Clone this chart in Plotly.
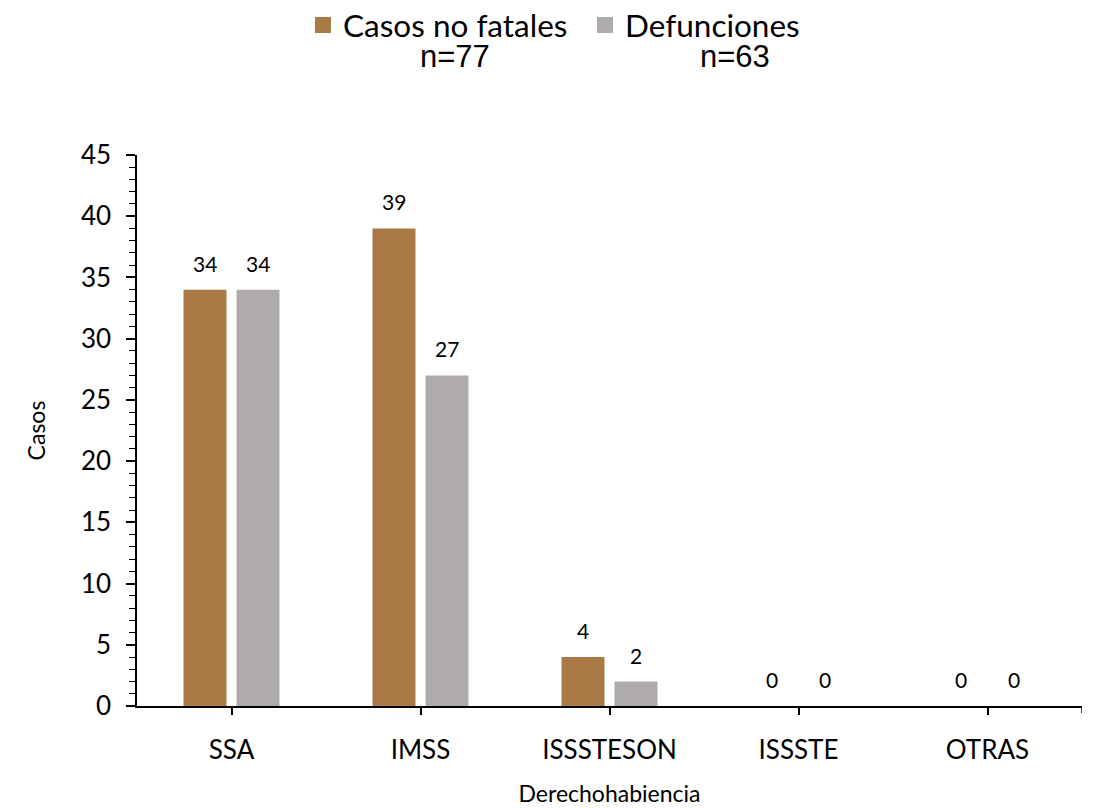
import plotly.graph_objects as go

categories = ["SSA", "IMSS", "ISSSTESON", "ISSSTE", "OTRAS"]
no_fatales = [34, 39, 4, 0, 0]
defunciones = [34, 27, 2, 0, 0]
series_names = ["Casos no fatales", "Defunciones"]
series_n = ["n=77", "n=63"]
colors = ["#A97A45", "#AFABAB"]

FONT = "Lato, Carlito, Calibri, sans-serif"

# page body adds an 8px offset; compensate in margins
OFF = 8
L, R, T, B = 137 - OFF, 1097 - (1082 - OFF), 155 - OFF, 808 - (706 - OFF)
PW, PH = 1097 - L - R, 808 - T - B

fig = go.Figure()
for name, vals, col in zip(series_names, [no_fatales, defunciones], colors):
    fig.add_trace(go.Bar(x=categories, y=vals, name=name, marker=dict(color=col, line=dict(width=0)),
                         cliponaxis=False, showlegend=False))
# legend entries with larger square symbols
for name, col in zip(series_names, colors):
    fig.add_trace(go.Scatter(x=[None], y=[None], mode="markers", name=name,
                             marker=dict(symbol="square", size=20, color=col)))

# data labels
for vals, shift in zip([no_fatales, defunciones], [-26.5, 26.5]):
    for c, v in zip(categories, vals):
        fig.add_annotation(x=c, y=v, text=str(v), showarrow=False, xshift=shift, yshift=12,
                           yanchor="bottom", font=dict(family=FONT, size=21, color="black"))

# legend n labels
for txt, xp in zip(series_n, [455, 735]):
    fig.add_annotation(x=(xp - OFF - L) / PW, y=(808 - B - (57 - OFF)) / PH, xref="paper", yref="paper",
                       text=txt, showarrow=False, xanchor="center", yanchor="middle",
                       font=dict(family="Liberation Sans, Arial, sans-serif", size=31, color="black"))

# end tick on x axis
fig.add_shape(type="line", xref="x", yref="paper", x0=4.5, x1=4.5, y0=0, y1=-7 / PH,
              line=dict(color="black", width=1.5))

fig.update_layout(
    width=1097, height=808,
    paper_bgcolor="white", plot_bgcolor="white",
    margin=dict(l=L, r=R, t=T, b=B),
    barmode="group", bargap=0.439, bargroupgap=0.189,
    font=dict(family=FONT, color="black"),
    legend=dict(orientation="h", x=(585 - OFF) / 1097, xanchor="center", xref="container",
                y=1 - (25 - OFF) / 808, yanchor="middle", yref="container",
                font=dict(family=FONT, size=31.5, color="black"),
                itemwidth=30, entrywidth=237, traceorder="normal", itemclick=False),
    showlegend=True,
)
fig.update_xaxes(
    type="category", range=[-0.5, 4.5], showline=True, linecolor="black", linewidth=1.5,
    ticks="outside", ticklen=7, tickcolor="black", tickwidth=1.5, showgrid=False,
    tickfont=dict(family=FONT, size=26, color="black"), ticklabelstandoff=13,
    title=dict(text="Derechohabiencia", font=dict(family=FONT, size=23, color="black"), standoff=22),
)
fig.update_yaxes(
    range=[0, 45], dtick=5, showline=True, linecolor="black", linewidth=1.5,
    ticks="outside", ticklen=9, tickcolor="black", tickwidth=1.5, showgrid=False, zeroline=False,
    tickfont=dict(family=FONT, size=26, color="black"), ticklabelstandoff=10,
    minor=dict(dtick=1, ticks="outside", ticklen=6, tickcolor="black", tickwidth=1.2, showgrid=False),
    title=dict(text="Casos", font=dict(family=FONT, size=23, color="black"), standoff=29),
)

fig.write_html("out.html")
